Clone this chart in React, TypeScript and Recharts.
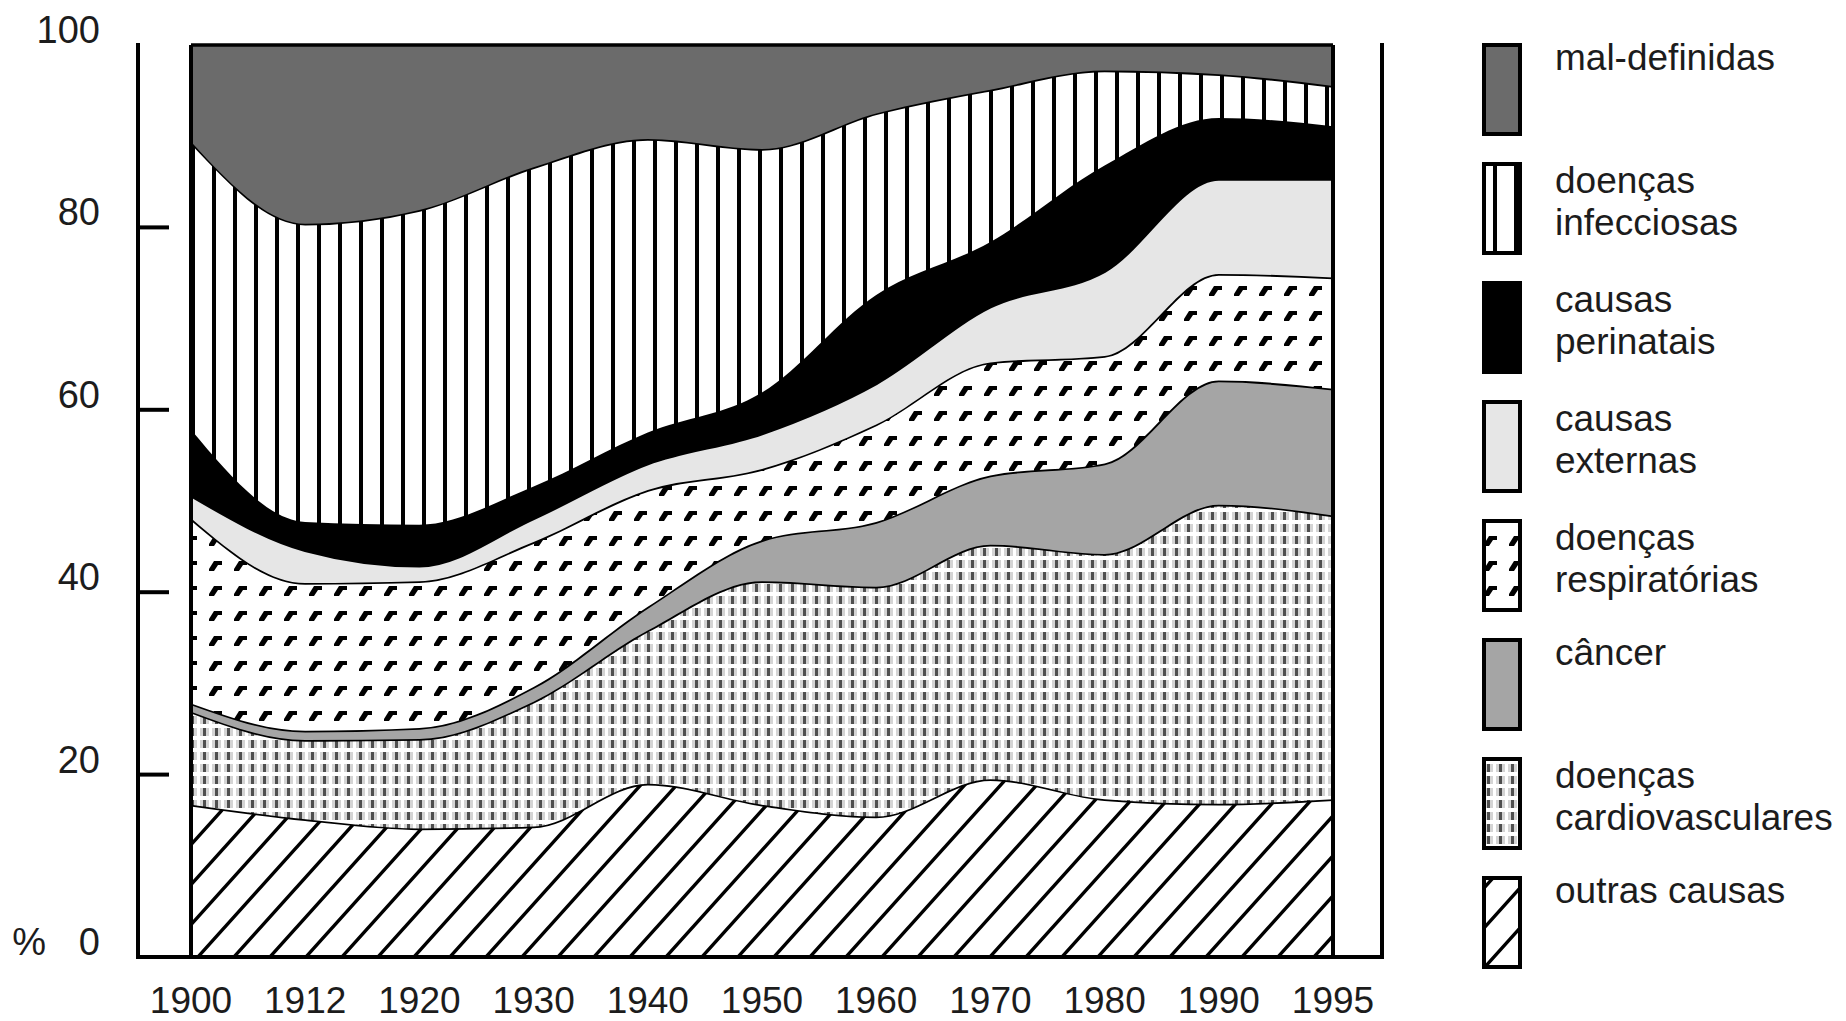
import React from "react";
import { AreaChart, Area, XAxis, YAxis, ReferenceLine } from "recharts";

// anos (categorias do eixo x)
const years = ["1900", "1912", "1920", "1930", "1940", "1950", "1960", "1970", "1980", "1990", "1995"];

// % de óbitos por grupo de causas (de baixo para cima)
const outrasCausas = [16.7, 15.1, 14.1, 14.3, 19.0, 16.7, 15.4, 19.5, 17.3, 16.8, 17.3];
const cardiovasculares = [10.2, 8.7, 9.8, 13.7, 16.8, 24.5, 25.2, 25.7, 26.9, 32.8, 31.1];
const cancer = [0.9, 1.0, 1.2, 1.6, 2.6, 4.5, 7.1, 7.6, 9.9, 13.6, 13.9];
const respiratorias = [20.3, 16.2, 16.1, 15.9, 12.8, 7.8, 10.7, 12.4, 11.8, 11.7, 12.2];
const externas = [2.5, 3.6, 1.7, 2.6, 2.9, 3.9, 4.5, 6.1, 9.3, 10.4, 10.8];
const perinatais = [7.2, 3.1, 4.5, 3.5, 3.4, 4.5, 9.7, 7.1, 11.6, 6.7, 5.8];
const infecciosas = [31.6, 32.7, 34.5, 35.0, 32.2, 26.7, 19.9, 16.7, 10.4, 4.8, 4.4];
const malDefinidas = [10.6, 19.6, 18.1, 13.4, 10.3, 11.4, 7.5, 4.9, 2.8, 3.2, 4.5];

const yTicks = [0, 20, 40, 60, 80, 100];

const data = years.map((year, i) => ({
  year,
  outras: outrasCausas[i],
  cardio: cardiovasculares[i],
  cancer: cancer[i],
  resp: respiratorias[i],
  ext: externas[i],
  peri: perinatais[i],
  infec: infecciosas[i],
  mal: malDefinidas[i],
}));

// ordem de empilhamento: de baixo para cima
const series = [
  { key: "outras", label: ["outras causas"], fill: "url(#pOutras)" },
  { key: "cardio", label: ["doenças", "cardiovasculares"], fill: "url(#pCardio)" },
  { key: "cancer", label: ["câncer"], fill: "#a5a5a5" },
  { key: "resp", label: ["doenças", "respiratórias"], fill: "url(#pResp)" },
  { key: "ext", label: ["causas", "externas"], fill: "#e6e6e6" },
  { key: "peri", label: ["causas", "perinatais"], fill: "#000000" },
  { key: "infec", label: ["doenças", "infecciosas"], fill: "url(#pInfec)" },
  { key: "mal", label: ["mal-definidas"], fill: "#6b6b6b" },
];

const FONT = "'Liberation Sans', Arial, sans-serif";
const TEXT = "#1c1c1c";
const frame = { stroke: "#000", strokeWidth: 4, strokeLinecap: "square" as const };

function YTick(props: any) {
  const { x, y, payload } = props;
  const v = payload.value;
  return (
    <g>
      <text x={x - 38} y={y - 2} textAnchor="end" fontSize={38} fill={TEXT} fontFamily={FONT}>
        {v}
      </text>
      {v === 0 && (
        <text x={x - 92} y={y - 2} textAnchor="end" fontSize={38} fill={TEXT} fontFamily={FONT}>
          %
        </text>
      )}
      {v > 0 && v < 100 && <line x1={x} x2={x + 31} y1={y} y2={y} stroke="#000" strokeWidth={4} />}
    </g>
  );
}

function XTick(props: any) {
  const { x, y, payload } = props;
  return (
    <text x={x} y={y + 56} textAnchor="middle" fontSize={37} fill={TEXT} fontFamily={FONT}>
      {payload.value}
    </text>
  );
}

export default function App() {
  const legendItems = [...series].reverse();
  return (
    <div style={{ position: "relative", width: 1830, height: 1013 }}>
      <AreaChart
        width={1830}
        height={1013}
        data={data}
        margin={{ top: 37, right: 455, bottom: 0, left: 0 }}
      >
        <XAxis
          dataKey="year"
          interval={0}
          padding={{ left: 53, right: 49 }}
          height={64}
          tickSize={0}
          tickMargin={0}
          tickLine={false}
          tick={<XTick />}
          axisLine={frame}
        />
        <XAxis
          xAxisId="top"
          orientation="top"
          dataKey="year"
          padding={{ left: 53, right: 49 }}
          height={0}
          tick={false}
          tickLine={false}
          axisLine={frame}
        />
        <YAxis
          domain={[0, 100]}
          ticks={yTicks}
          width={130}
          tickSize={0}
          tickMargin={0}
          tickLine={false}
          tick={<YTick />}
          axisLine={frame}
          interval={0}
        />
        <YAxis
          yAxisId="right"
          orientation="right"
          domain={[0, 100]}
          width={1}
          tick={false}
          tickLine={false}
          axisLine={frame}
        />
        {series.map((s) => (
          <Area
            key={s.key}
            type="monotone"
            dataKey={s.key}
            stackId="1"
            fill={s.fill}
            fillOpacity={1}
            stroke="#000"
            strokeWidth={3.5}
            dot={false}
            activeDot={false}
            isAnimationActive={false}
          />
        ))}
        <ReferenceLine x="1900" stroke="#000" strokeWidth={4} />
        <ReferenceLine x="1995" stroke="#000" strokeWidth={4} />
      </AreaChart>

      <svg
        width={1830}
        height={1013}
        style={{ position: "absolute", left: 0, top: 0, pointerEvents: "none" }}
      >
        <defs>
          <pattern id="pInfec" patternUnits="userSpaceOnUse" width={21} height={10} x={15}>
            <rect width={21} height={10} fill="#fff" />
            <rect x={0} width={4} height={10} fill="#000" />
          </pattern>
          <pattern id="pResp" patternUnits="userSpaceOnUse" width={25} height={25}>
            <rect width={25} height={25} fill="#fff" />
            <path d="M6 3 H14 V7 H10 L6 13 H1 V11 Z" fill="#000" />
          </pattern>
          <pattern id="pCardio" patternUnits="userSpaceOnUse" width={12} height={12}>
            <rect width={12} height={12} fill="#fff" />
            <rect x={0} y={0} width={3} height={8} fill="#d4d4d4" />
            <rect x={3} y={0} width={3} height={8} fill="#4f4f4f" />
            <rect x={6} y={0} width={3} height={8} fill="#d4d4d4" />
          </pattern>
          <pattern id="pOutras" patternUnits="userSpaceOnUse" width={36} height={40}>
            <rect width={36} height={40} fill="#fff" />
            <path
              d="M0 40 L36 0 M-9 10 L9 -10 M27 50 L45 30"
              stroke="#000"
              strokeWidth={3.4}
              fill="none"
            />
          </pattern>
        </defs>
        {legendItems.map((s, i) => {
          const top = 35 + i * 119;
          const one = s.label.length === 1;
          return (
            <g key={s.key}>
              <rect x={1476} y={top + 2} width={36} height={89} fill={s.fill} stroke="#000" strokeWidth={4} />
              {s.label.map((line, j) => (
                <text
                  key={j}
                  x={1547}
                  y={top + (one ? 27 : 31) + j * 42}
                  fontSize={37}
                  fill={TEXT}
                  fontFamily={FONT}
                >
                  {line}
                </text>
              ))}
            </g>
          );
        })}
      </svg>
    </div>
  );
}
